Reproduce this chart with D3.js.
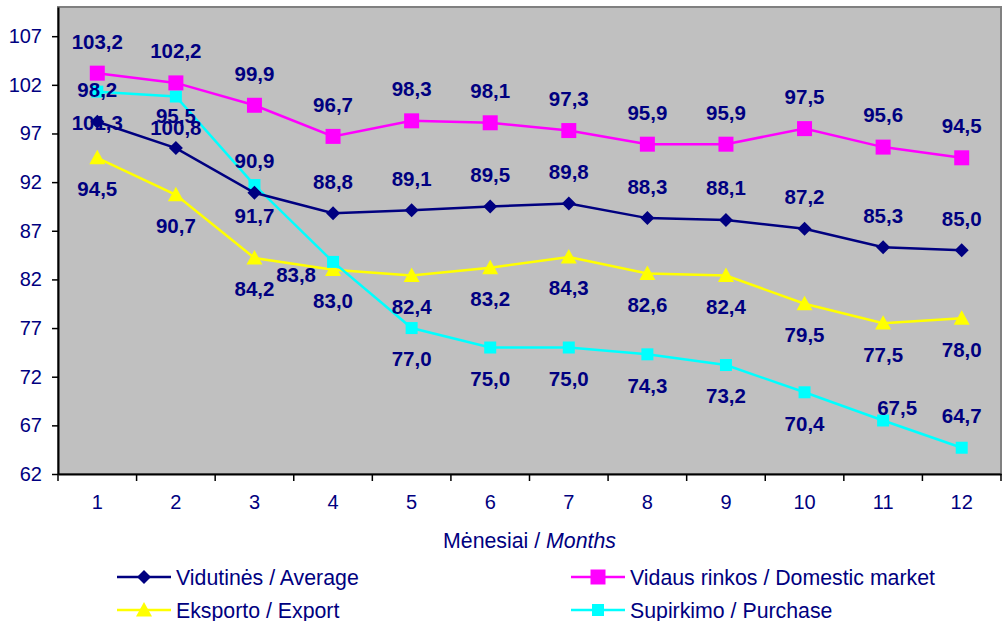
<!DOCTYPE html>
<html>
<head>
<meta charset="utf-8">
<script src="https://cdnjs.cloudflare.com/ajax/libs/d3/7.8.5/d3.min.js"></script>
<style>
  body { margin: 0; background: #fff; }
  svg { display: block; font-family: "Liberation Sans", Arial, sans-serif; }
</style>
</head>
<body>
<div id="chart"></div>
<script>
// data
var months = ['1', '2', '3', '4', '5', '6', '7', '8', '9', '10', '11', '12'];
var yTicks = [62, 67, 72, 77, 82, 87, 92, 97, 102, 107];

var average  = [98.2, 95.5, 90.9, 88.8, 89.1, 89.5, 89.8, 88.3, 88.1, 87.2, 85.3, 85.0];
var domestic = [103.2, 102.2, 99.9, 96.7, 98.3, 98.1, 97.3, 95.9, 95.9, 97.5, 95.6, 94.5];
var exportS  = [94.5, 90.7, 84.2, 83.0, 82.4, 83.2, 84.3, 82.6, 82.4, 79.5, 77.5, 78.0];
var purchase = [101.3, 100.8, 91.7, 83.8, 77.0, 75.0, 75.0, 74.3, 73.2, 70.4, 67.5, 64.7];

// where each value label sits relative to its point
var avgPos = ['a','a','a','a','a','a','a','a','a','a','a','a'];
var domPos = ['a','a','a','a','a','a','a','a','a','a','a','a'];
var expPos = ['b','b','b','b','b','b','b','b','b','b','b','b'];
var purPos = ['b','b','b','l','b','b','b','b','b','b','ar','a'];

var series = [
  { name: 'Vidutinės / Average', values: average, pos: avgPos, color: '#000080', marker: 'diamond', size: 7 },
  { name: 'Vidaus rinkos / Domestic market', values: domestic, pos: domPos, color: '#FF00FF', marker: 'square', size: 7.5 },
  { name: 'Eksporto / Export', values: exportS, pos: expPos, color: '#FFFF00', marker: 'triangle', size: 8 },
  { name: 'Supirkimo / Purchase', values: purchase, pos: purPos, color: '#00FFFF', marker: 'square', size: 6 }
];

var width = 1003, height = 621;
var plotLeft = 58, plotRight = 1001, plotTop = 7, plotBottom = 474;
var textColor = '#000080';

var svg = d3.select('#chart').append('svg')
  .attr('width', width)
  .attr('height', height);

var x = d3.scaleBand().domain(months).range([plotLeft, plotRight]);
var y = d3.scaleLinear().domain([62, 110]).range([plotBottom, plotTop]);
var cx = function(i) { return x(months[i]) + x.bandwidth() / 2; };

// plot area
svg.append('rect')
  .attr('x', plotLeft).attr('y', plotTop)
  .attr('width', plotRight - plotLeft).attr('height', plotBottom - plotTop)
  .style('fill', '#C0C0C0')
  .style('stroke', '#808080')
  .style('stroke-width', 2);

// y axis
var yAxis = svg.append('g')
  .attr('transform', 'translate(' + plotLeft + ',0)')
  .call(d3.axisLeft(y).tickValues(yTicks).tickSize(6).tickPadding(10).tickSizeOuter(0));
yAxis.select('.domain').style('stroke', '#000').style('stroke-width', 2);
yAxis.selectAll('.tick line').style('stroke', '#000').style('stroke-width', 1.5);
yAxis.selectAll('.tick text')
  .style('font-size', '20px')
  .style('fill', textColor);

// x axis: labels in the middle, ticks between categories
var xAxis = svg.append('g')
  .attr('transform', 'translate(0,' + plotBottom + ')')
  .call(d3.axisBottom(x).tickSize(0).tickPadding(21).tickSizeOuter(0));
xAxis.select('.domain').style('stroke', '#000').style('stroke-width', 2);
xAxis.selectAll('.tick text')
  .style('font-size', '20px')
  .style('fill', textColor);

svg.append('g').selectAll('line')
  .data(d3.range(months.length + 1))
  .enter()
  .append('line')
  .attr('x1', function(i) { return plotLeft + i * x.step(); })
  .attr('x2', function(i) { return plotLeft + i * x.step(); })
  .attr('y1', plotBottom)
  .attr('y2', plotBottom + 7)
  .style('stroke', '#000')
  .style('stroke-width', 1.5);

// axis title
var title = svg.append('text')
  .attr('x', (plotLeft + plotRight) / 2)
  .attr('y', 548)
  .attr('text-anchor', 'middle')
  .style('font-size', '21.3px')
  .style('fill', textColor);
title.append('tspan').text('Mėnesiai / ');
title.append('tspan').style('font-style', 'italic').text('Months');

// markers
function markerPath(type, s) {
  if (type === 'diamond') {
    return 'M0,' + (-s) + 'L' + s + ',0L0,' + s + 'L' + (-s) + ',0Z';
  } else if (type === 'triangle') {
    return 'M0,' + (-s) + 'L' + s + ',' + (s * 0.8) + 'L' + (-s) + ',' + (s * 0.8) + 'Z';
  }
  return 'M' + (-s) + ',' + (-s) + 'H' + s + 'V' + s + 'H' + (-s) + 'Z';
}

var line = d3.line()
  .x(function(d, i) { return cx(i); })
  .y(function(d) { return y(d); });

// draw in the reference's stacking order
var drawOrder = [2, 3, 0, 1];
drawOrder.forEach(function(k) {
  var s = series[k];
  var g = svg.append('g');
  g.append('path')
    .datum(s.values)
    .attr('d', line)
    .style('fill', 'none')
    .style('stroke', s.color)
    .style('stroke-width', 2.5);
  g.selectAll('path.mk')
    .data(s.values)
    .enter()
    .append('path')
    .attr('class', 'mk')
    .attr('transform', function(d, i) { return 'translate(' + cx(i) + ',' + y(d) + ')'; })
    .attr('d', markerPath(s.marker, s.size))
    .style('fill', s.color);
});

// value labels
var fmt = function(v) { return d3.format('.1f')(v).replace('.', ','); };
series.forEach(function(s) {
  svg.append('g').selectAll('text')
    .data(s.values)
    .enter()
    .append('text')
    .attr('x', function(d, i) {
      var p = s.pos[i];
      if (p === 'l') return cx(i) - 17;
      if (p === 'ar') return cx(i) + 14;
      return cx(i);
    })
    .attr('y', function(d, i) {
      var p = s.pos[i];
      if (p === 'a') return y(d) - 32;
      if (p === 'b') return y(d) + 31;
      if (p === 'l') return y(d) + 13;
      return y(d) - 13;
    })
    .attr('dy', '0.36em')
    .attr('text-anchor', function(d, i) { return s.pos[i] === 'l' ? 'end' : 'middle'; })
    .style('font-size', '20.5px')
    .style('font-weight', 'bold')
    .style('fill', textColor)
    .text(function(d) { return fmt(d); });
});

// legend
var legendItems = [
  { s: series[0], x1: 117, x2: 171, tx: 176, y: 577 },
  { s: series[1], x1: 571, x2: 625, tx: 630, y: 577 },
  { s: series[2], x1: 117, x2: 171, tx: 176, y: 610 },
  { s: series[3], x1: 571, x2: 625, tx: 630, y: 610 }
];
var lg = svg.append('g').selectAll('g')
  .data(legendItems)
  .enter()
  .append('g');
lg.append('line')
  .attr('x1', function(d) { return d.x1; })
  .attr('x2', function(d) { return d.x2; })
  .attr('y1', function(d) { return d.y; })
  .attr('y2', function(d) { return d.y; })
  .style('stroke', function(d) { return d.s.color; })
  .style('stroke-width', 2.5);
lg.append('path')
  .attr('transform', function(d) { return 'translate(' + ((d.x1 + d.x2) / 2) + ',' + d.y + ')'; })
  .attr('d', function(d) { return markerPath(d.s.marker, d.s.size); })
  .style('fill', function(d) { return d.s.color; });
lg.append('text')
  .attr('x', function(d) { return d.tx; })
  .attr('y', function(d) { return d.y; })
  .attr('dy', '0.36em')
  .style('font-size', '21.3px')
  .style('fill', textColor)
  .text(function(d) { return d.s.name; });
</script>
</body>
</html>
